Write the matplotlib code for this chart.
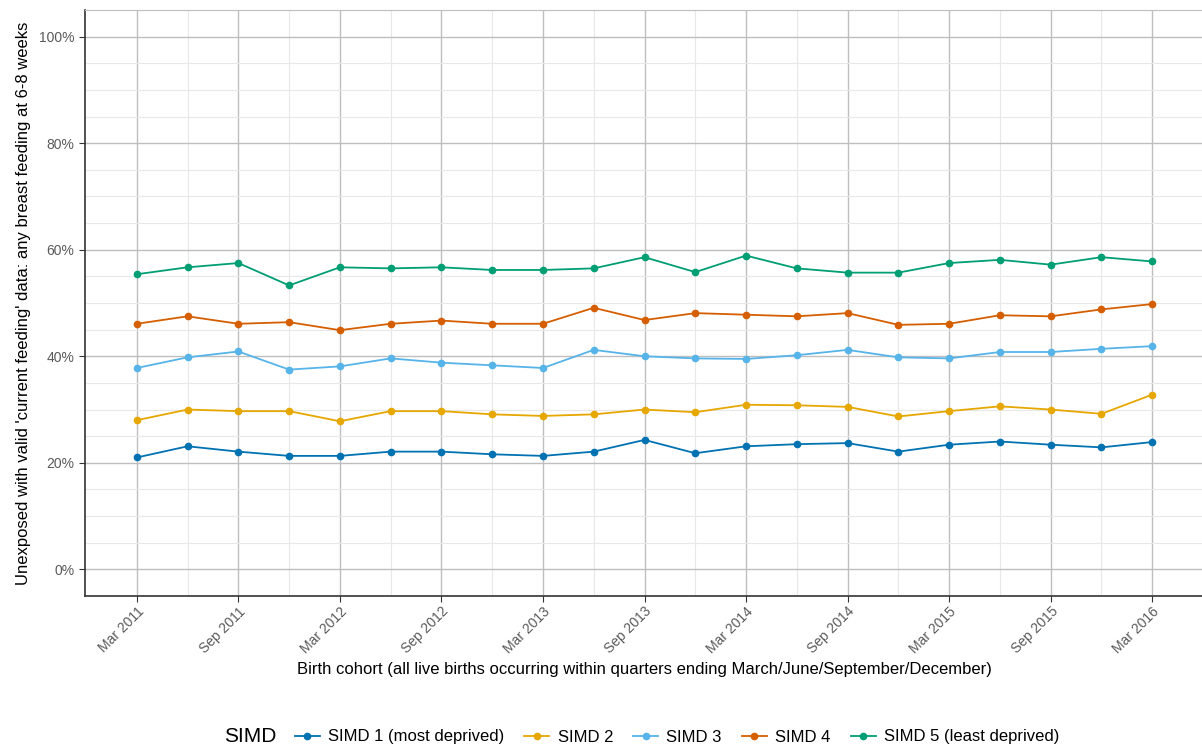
import numpy as np
import matplotlib.pyplot as plt
from matplotlib.ticker import MultipleLocator, FuncFormatter

plt.rcParams['font.family'] = ['Liberation Sans', 'DejaVu Sans']

quarters = ['Mar 2011', 'Jun 2011', 'Sep 2011', 'Dec 2011', 'Mar 2012', 'Jun 2012', 'Sep 2012',
            'Dec 2012', 'Mar 2013', 'Jun 2013', 'Sep 2013', 'Dec 2013', 'Mar 2014', 'Jun 2014',
            'Sep 2014', 'Dec 2014', 'Mar 2015', 'Jun 2015', 'Sep 2015', 'Dec 2015', 'Mar 2016']

simd1 = [21.0, 23.1, 22.1, 21.3, 21.3, 22.1, 22.1, 21.6, 21.3, 22.1, 24.3,
         21.8, 23.1, 23.5, 23.7, 22.1, 23.4, 24.0, 23.4, 22.9, 23.9]
simd2 = [28.0, 30.0, 29.7, 29.7, 27.8, 29.7, 29.7, 29.1, 28.8, 29.1, 30.0,
         29.5, 30.9, 30.8, 30.5, 28.7, 29.7, 30.6, 30.0, 29.2, 32.8]
simd3 = [37.8, 39.8, 40.9, 37.5, 38.1, 39.6, 38.8, 38.3, 37.8, 41.2, 40.0,
         39.6, 39.5, 40.2, 41.2, 39.8, 39.6, 40.8, 40.8, 41.4, 41.9]
simd4 = [46.1, 47.5, 46.1, 46.4, 44.9, 46.1, 46.7, 46.1, 46.1, 49.1, 46.8,
         48.1, 47.8, 47.5, 48.1, 45.9, 46.1, 47.7, 47.5, 48.8, 49.8]
simd5 = [55.4, 56.7, 57.5, 53.3, 56.7, 56.5, 56.7, 56.2, 56.2, 56.5, 58.6,
         55.8, 58.9, 56.5, 55.7, 55.7, 57.5, 58.1, 57.2, 58.6, 57.8]

series = [
    ('SIMD 1 (most deprived)', simd1, '#0072B2'),
    ('SIMD 2', simd2, '#E6A700'),
    ('SIMD 3', simd3, '#56B4E9'),
    ('SIMD 4', simd4, '#D55E00'),
    ('SIMD 5 (least deprived)', simd5, '#009E73'),
]

fig = plt.figure(figsize=(12.02, 7.51), dpi=100)
ax = fig.add_axes([85 / 1202, 1 - 596 / 751, 1118 / 1202, 586 / 751])

x = np.arange(len(quarters))
for name, vals, col in series:
    ax.plot(x, vals, '-o', color=col, lw=1.3, ms=4.5, label=name, zorder=3)

ax.set_xlim(-1.02, 21.0)
ax.set_ylim(-5, 105)
ax.set_xticks(x[::2])
ax.set_xticklabels(quarters[::2], rotation=45, ha='right', rotation_mode='anchor')
ax.set_xticks(x[1::2], minor=True)
ax.yaxis.set_major_locator(MultipleLocator(20))
ax.yaxis.set_minor_locator(MultipleLocator(5))
ax.yaxis.set_major_formatter(FuncFormatter(lambda v, p: f'{v:.0f}%'))

ax.grid(which='major', color='#BEBEBE', lw=1.0)
ax.grid(which='minor', color='#E8E8E8', lw=0.8)
ax.set_axisbelow(True)

for s in ['top', 'right']:
    ax.spines[s].set_color('#BEBEBE')
for s in ['left', 'bottom']:
    ax.spines[s].set_color('#333333')
    ax.spines[s].set_linewidth(1.2)

ax.tick_params(which='major', length=4, color='#333333', labelsize=10, labelcolor='#5A5A5A')
ax.tick_params(axis='x', which='major', pad=2)
ax.tick_params(which='minor', length=0)

ax.set_xlabel('Birth cohort (all live births occurring within quarters ending March/June/September/December)',
              fontsize=12, labelpad=4)
ax.set_ylabel("Unexposed with valid 'current feeding' data: any breast feeding at 6-8 weeks",
              fontsize=12, labelpad=6)

fig.text(250 / 1202, 1 - 737 / 751, 'SIMD', fontsize=15, ha='center', va='center')
handles, labels = ax.get_legend_handles_labels()
fig.legend(handles, labels, loc='center', bbox_to_anchor=(677 / 1202, 1 - 737 / 751), ncol=5,
           frameon=False, fontsize=12, handlelength=1.5, handletextpad=0.5, columnspacing=1.2)

fig.savefig('out.png', dpi=100)
